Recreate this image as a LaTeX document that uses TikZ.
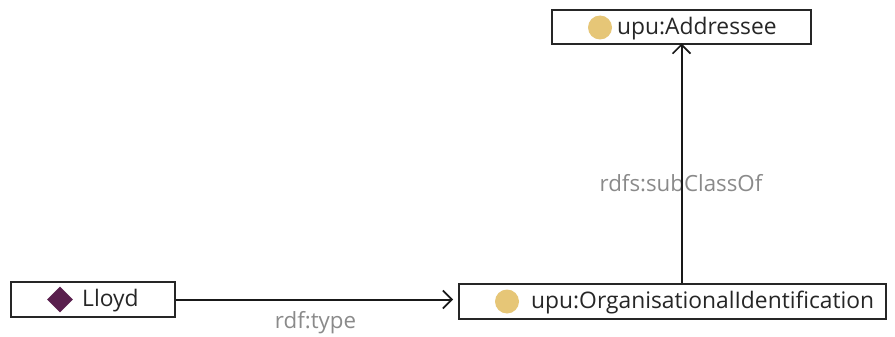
\documentclass[tikz,border=0pt]{standalone}
\usepackage{fontspec}
\setmainfont{Open Sans}
\usetikzlibrary{arrows.meta,shapes.geometric}
\definecolor{classgold}{HTML}{E6C677}
\definecolor{indpurple}{HTML}{5A1F4E}
\definecolor{lblgray}{HTML}{8A8A8A}
\tikzset{
  entbox/.style={draw=black!85, line width=2pt, rectangle, inner sep=0pt, fill=white},
  enttext/.style={font=\fontsize{22.8}{26}\selectfont, text=black!85, anchor=west, inner sep=0pt},
  clsicon/.style={circle, fill=classgold, minimum size=24pt, inner sep=0pt},
  indicon/.style={diamond, fill=indpurple, minimum width=26pt, minimum height=26pt, inner sep=0pt},
  edge/.style={draw=black!90, line width=2pt, -{Straight Barb[length=9pt, width=18pt, line width=1.6pt]}},
  elabel/.style={font=\fontsize{22.3}{26}\selectfont, text=lblgray, inner sep=0pt}
}
\begin{document}
\begin{tikzpicture}[x=1pt,y=-1pt]
\useasboundingbox (0,0) rectangle (895,337);
% boxes
\node[entbox, minimum width=259pt, minimum height=34pt] (addr) at (681.5,27.5) {};
\node[entbox, minimum width=164pt, minimum height=35pt] (lloyd) at (92.5,299.5) {};
\node[entbox, minimum width=427pt, minimum height=35pt] (org) at (672.5,301.5) {};
% icons and texts
\node[clsicon] (addricon) at (600,27.5) {};
\node[enttext] (addrtext) at (617,28.5) {upu:Addressee};
\node[indicon] (lloydicon) at (60,299.5) {};
\node[enttext] (lloydtext) at (82,300.5) {Lloyd};
\node[clsicon] (orgicon) at (507,301.5) {};
\node[enttext] (orgtext) at (531,302.5) {upu:OrganisationalIdentification};
% edges
\coordinate (hstart) at (lloyd.east);
\coordinate (hend) at (org.west |- lloyd.east);
\draw[edge, shorten >=5pt] (hstart) -- (hend);
\node[elabel] (typelbl) at (315.5,323) {rdf:type};
\node[elabel] (sublbl) at (681,183) {rdfs:subClassOf};
\coordinate (vstart) at (addr.south |- org.north);
\draw[edge, shorten >=-2pt] (vstart) -- (addr.south);
\end{tikzpicture}
\end{document}
